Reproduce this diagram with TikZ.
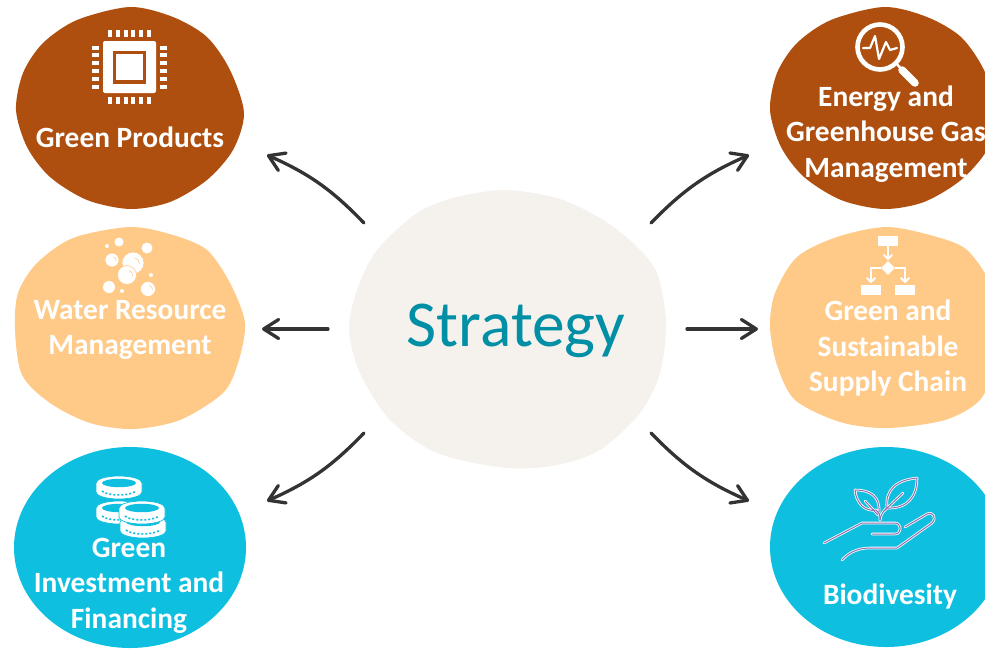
\documentclass[tikz,border=0pt]{standalone}
\usepackage{fontspec}
\setmainfont{Carlito}
\usetikzlibrary{arrows.meta,shapes.geometric}
\definecolor{rust}{HTML}{AE4F0F}
\definecolor{peach}{HTML}{FFC987}
\definecolor{sky}{HTML}{0FBFE0}
\definecolor{shell}{HTML}{F5F2ED}
\definecolor{teal}{HTML}{008FA5}
\definecolor{ink}{HTML}{333333}
\definecolor{vine}{HTML}{8E6DB0}
\tikzset{
  flow/.style={draw=ink,line width=3.3pt,line cap=round,-{Straight Barb[length=15pt,width=19pt,line width=3.3pt,round]}},
  label/.style={text=white,font=\fontsize{29.4}{35.6}\selectfont\bfseries,align=center},
  halo/.style={draw=white,line width=2.6pt,line cap=round,line join=round},
  vein/.style={draw=vine,line width=1pt,line cap=round,line join=round},
  pipe/.style={draw=white,line width=2pt}
}
\begin{document}
\begin{tikzpicture}[x=1pt,y=-1pt]
  \useasboundingbox (0,0) rectangle (985,648);

  % blobs
  \fill[rust] plot[smooth cycle] coordinates {(16,110) (23,73) (43,43) (77,20) (130,7) (173,17) (207,37) (230,70) (244,113) (233,150) (207,180) (170,202) (130,209) (87,200) (50,177) (27,147)};
  \fill[rust,xshift=754pt] plot[smooth cycle] coordinates {(16,110) (23,73) (43,43) (77,20) (130,7) (173,17) (207,37) (230,70) (244,113) (233,150) (207,180) (170,202) (130,209) (87,200) (50,177) (27,147)};
  \fill[peach] plot[smooth cycle] coordinates {(15,330) (18,293) (37,263) (73,238) (130,227) (173,235) (207,250) (230,283) (245,323) (238,363) (223,393) (180,420) (133,429) (90,423) (50,403) (22,375)};
  \fill[peach] plot[smooth cycle] coordinates {(770,327) (775,293) (797,257) (837,237) (887,227) (937,237) (967,250) (990,283) (998,323) (995,365) (980,400) (945,420) (887,428) (840,422) (795,400) (777,365)};
  \fill[sky] (130,547.5) ellipse[x radius=116,y radius=100.5];
  \fill[sky] (886,547) ellipse[x radius=116,y radius=100];
  \fill[shell] plot[smooth cycle] coordinates {(349,330) (357,290) (377,250) (417,213) (457,197) (505,190) (557,198) (600,218) (633,243) (657,273) (666,323) (660,373) (640,413) (600,450) (557,465) (506,468) (437,453) (390,420) (360,373)};

  % labels
  \node (strategy) at (516,331) {\textcolor{teal}{\fontsize{65.5}{68}\selectfont Strategy}};
  \node[label] (products) at (130,137) {Green Products};
  \node[label] (energy) at (886,134) {Energy and\\Greenhouse Gas\\Management};
  \node[label] (water) at (130,330) {Water Resource\\Management};
  \node[label] (supply) at (888,348) {Green and\\Sustainable\\Supply Chain};
  \node[label] (invest) at (129,585.5) {Green\\Investment and\\Financing};
  \node[label] (bio) at (890,596) {Biodivesity};

  % arrows
  \coordinate (a1) at (364,223);
  \coordinate (b1) at (267,155);
  \coordinate (a2) at (328,329);
  \coordinate (b2) at (262,329);
  \coordinate (a3) at (364,433);
  \coordinate (b3) at (267,501);
  \coordinate (a4) at (651,223);
  \coordinate (b4) at (749,155);
  \coordinate (a5) at (687,329);
  \coordinate (b5) at (758,329);
  \coordinate (a6) at (651,433);
  \coordinate (b6) at (749,501);
  \draw[flow] (a1) to[bend right=11] (b1);
  \draw[flow] (a2) -- (b2);
  \draw[flow] (a3) to[bend left=11] (b3);
  \draw[flow] (a4) to[bend left=11] (b4);
  \draw[flow] (a5) -- (b5);
  \draw[flow] (a6) to[bend right=11] (b6);

  % chip
  \fill[white,rounded corners=2pt] (103,41) rectangle (156,93);
  \fill[rust] (113,51) rectangle (146,84);
  \fill[white] (116,54) rectangle (143,80);
  \foreach \x in {110,118,126,133,141,149}
  {
    \fill[white] (\x-1.7,30) rectangle (\x+1.7,37);
    \fill[white] (\x-1.7,97) rectangle (\x+1.7,104);
  };
  \foreach \y in {48,55,63,71,79,87}
  {
    \fill[white] (92,\y-2) rectangle (99,\y+2);
    \fill[white] (160,\y-2) rectangle (167,\y+2);
  };

  % magnifier
  \draw[white,line width=4.6pt] (880,47) circle[radius=22.5];
  \draw[white,line width=2.5pt] (896,63) -- (902,70);
  \draw[white,line width=7.5pt,line cap=round] (902,70) -- (915,83);
  \draw[white,line width=2.2pt,line cap=round,line join=round] (863,48) -- (870,48) -- (875,36) -- (879,59) -- (886,42) -- (890,50) -- (897,48);

  % bubbles
  \foreach \x/\y/\r in {119/242/4.5,107/246/2,147/248/5.5,151/275/2,109/287/6,122/291/2}
  {
    \fill[white] (\x,\y) circle[radius=\r];
  };
  \foreach \x/\y/\r in {112/260/7,148/289/7.5,133/263/11,127/275/9.5}
  {
    \filldraw[white,draw=peach,line width=0.6pt] (\x,\y) circle[radius=\r];
    \draw[peach,line width=0.6pt] (\x+0.6*\r,\y+0.1*\r) arc[start angle=0,end angle=-70,radius=0.6*\r];
  };

  % flowchart
  \fill[white] (878,236) rectangle (898,246);
  \fill[white] (861,285) rectangle (881,295);
  \fill[white] (895,285) rectangle (915,295);
  \node[fill=white,diamond,minimum size=14pt,inner sep=0pt] (choice) at (888,268) {};
  \draw[pipe] (888,246) -- (888,259);
  \draw[pipe] (871,282) -- (871,268) -- (choice.west);
  \draw[pipe] (905,282) -- (905,268) -- (choice.east);
  \draw[pipe,line cap=round] (884,255) -- (888,259) -- (892,255);
  \draw[pipe,line cap=round] (867,278) -- (871,282) -- (875,278);
  \draw[pipe,line cap=round] (901,278) -- (905,282) -- (909,278);

  % coins
  \foreach \x/\y in {119/508,119/483,143/522,142/508}
  {
    \filldraw[white,draw=sky,line width=0.7pt] (\x-23,\y) -- (\x-23,\y+9) arc[start angle=180,end angle=0,x radius=23,y radius=7] -- (\x+23,\y) arc[start angle=0,end angle=-180,x radius=23,y radius=7] -- cycle;
    \fill[sky] (\x,\y) ellipse[x radius=17,y radius=4.2];
    \draw[sky,line width=1.6pt,dash pattern=on 2pt off 2pt] (\x-17,\y+8) arc[start angle=160,end angle=20,x radius=18,y radius=6];
  };

  % hand and sprout
  \foreach \kind in {halo,vein}
  {
    \draw[\kind] (824,543) -- (862,523) -- (895,523) .. controls (902,523) and (902,534) .. (895,534) -- (872,534);
    \draw[\kind] (842,560) .. controls (850,551) and (860,548) .. (870,548) -- (897,548) -- (932,523) .. controls (937,518) and (933,511) .. (927,514) -- (905,527);
    \draw[\kind] (880,520) .. controls (880,514) and (879,512) .. (876,510) .. controls (866,512) and (856,504) .. (855,490) .. controls (870,490) and (880,496) .. (879,512);
    \draw[\kind] (865,501) -- (878,515);
    \draw[\kind] (880,520) .. controls (881,514) and (884,510) .. (887,508) .. controls (885,490) and (896,480) .. (917,478) .. controls (917,497) and (907,509) .. (887,508);
    \draw[\kind] (903,493) -- (884,511);
  };
\end{tikzpicture}
\end{document}
